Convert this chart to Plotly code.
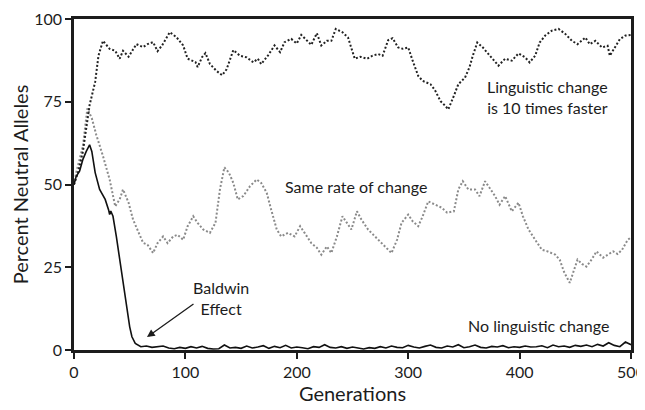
import plotly.graph_objects as go

# ---- data ----
fast_gen = [0, 4, 8, 11, 14, 19, 22, 26, 32, 37, 41, 44, 49, 56, 62, 66, 71, 75, 79, 86, 92, 98,
            102, 109, 111, 115, 118, 122, 128, 133, 137, 143, 149, 155, 161, 165, 168, 174, 180,
            185, 189, 195, 200, 204, 209, 213, 218, 222, 227, 231, 235, 241, 246, 249, 252, 257,
            263, 268, 273, 277, 282, 286, 291, 295, 300, 304, 309, 313, 320, 324, 329, 332, 336,
            341, 345, 351, 355, 358, 362, 367, 373, 381, 387, 393, 399, 405, 409, 414, 418, 423,
            429, 435, 441, 447, 452, 459, 463, 468, 474, 479, 481, 486, 490, 495, 500]
fast_val = [50, 54, 60, 67, 74, 81, 89, 93.4, 91, 90.4, 88, 90.4, 88.6, 92.4, 91.5, 92.4, 93, 90.3,
            92, 96, 94.5, 92, 88, 87, 85.5, 88.5, 89.7, 86.4, 84.3, 83, 84.8, 90.6, 88.9, 88.4,
            86.9, 88, 86.4, 88.9, 92, 90, 93, 94, 92.6, 95.2, 93.4, 92.2, 95.7, 92, 93.4, 93.4,
            97, 96, 94.4, 91.4, 88, 88.6, 88, 88.9, 89.4, 88.9, 93.6, 94.2, 91.4, 91, 91.4, 87.4,
            82.8, 81.3, 80.3, 78.5, 75.2, 74.2, 72.7, 76.8, 80.3, 82.3, 85.4, 88.9, 92.9, 91.4,
            88.9, 85.9, 88, 87.4, 89.6, 88.4, 86.9, 88.9, 92.9, 95, 96.5, 97, 95.5, 93.4, 92.4,
            94.4, 92.4, 93.4, 91.4, 91.9, 88.9, 91.9, 93.9, 95, 95.2]

same_gen = [0, 2, 8, 12, 16, 20, 26, 32, 37, 41, 44, 49, 53, 57, 62, 66, 71, 75, 80, 84, 89, 93,
            98, 102, 107, 111, 116, 122, 127, 131, 135, 139, 143, 147, 152, 158, 164, 168, 173,
            177, 182, 186, 192, 198, 203, 207, 213, 218, 222, 227, 231, 236, 241, 245, 249, 254,
            258, 264, 270, 276, 282, 285, 290, 294, 300, 304, 309, 313, 318, 324, 330, 335, 341,
            345, 349, 354, 360, 364, 369, 373, 378, 382, 387, 393, 399, 403, 408, 414, 420, 425,
            432, 436, 440, 445, 448, 452, 456, 460, 465, 469, 475, 480, 484, 488, 492, 497, 500]
same_val = [50, 53.6, 61.6, 73, 70, 65, 58.6, 51.5, 43.4, 45.5, 48.5, 44.5, 39.4, 36.4, 32.4, 31.8,
            29.3, 32.3, 34.3, 32.3, 34.3, 34.8, 33.3, 37.4, 40.4, 38.4, 36.4, 35.4, 38.4, 48.5,
            55.2, 53.6, 50.5, 45.5, 46.5, 49.5, 51.5, 50.5, 47.5, 42.4, 36.4, 34.3, 35.4, 34.3,
            37.4, 35.4, 32.3, 30.9, 28.8, 31.3, 29.3, 34.3, 40.4, 38.4, 36.4, 41.9, 39.4, 36.4,
            34.3, 32.3, 30.3, 29.3, 33.3, 38.4, 40.9, 38.9, 37.4, 40.4, 44.9, 43.9, 43, 41.5, 41.9,
            48.5, 51, 48.5, 48.5, 46.5, 51, 49, 46.5, 43.9, 46.5, 41.9, 44.5, 40.4, 36.4, 33.3,
            30.3, 29.8, 28.8, 27.3, 23.5, 20.3, 23.3, 27.3, 26, 25.2, 27.5, 29.8, 27.9, 29, 29.8,
            29, 30.3, 33.3, 34]

none_gen = [0, 2, 5, 8, 11, 14, 16, 19, 23, 28, 31, 32, 33, 35, 38, 41, 45, 48, 50, 52, 55,
            60, 65, 70, 75, 80, 85, 90, 95, 100, 105, 110, 115, 120, 125, 130, 135, 140, 145,
            150, 155, 160, 165, 170, 175, 180, 185, 190, 195, 200, 205, 210, 215, 220, 225, 230,
            235, 240, 245, 250, 255, 260, 265, 270, 275, 280, 285, 290, 295, 300, 305, 310, 315,
            320, 325, 330, 335, 340, 345, 350, 355, 360, 365, 370, 375, 380, 385, 390, 395, 400,
            405, 410, 415, 420, 425, 430, 435, 440, 445, 450, 455, 460, 465, 470, 475, 480, 485,
            490, 495, 500]
none_val = [50, 52.5, 54, 57.6, 60, 62, 60, 53.6, 48.5, 45.5, 42.4, 40.9, 42, 40.4, 34.3, 27.3,
            19, 12, 7, 4, 2,
            1, 1.2, 0.8, 1, 1.2, 0.6, 0.4, 0.8, 0.5, 1, 0.6, 1.1, 0.5, 0.3, 0.4, 1.5, 0.6, 0.8,
            0.5, 1.2, 0.6, 0.9, 1.3, 0.5, 1.1, 0.7, 1.4, 0.6, 0.9, 0.7, 0.4, 1.0, 0.8, 1.6, 0.8,
            0.6, 1.0, 0.5, 0.9, 0.6, 0.3, 0.7, 0.5, 1.0, 0.6, 1.2, 0.8, 0.7, 1.4, 0.9, 0.6, 1.1,
            1.5, 0.8, 0.6, 1.2, 0.9, 1.6, 0.7, 1.0, 1.5, 0.8, 0.6, 1.1, 0.9, 1.3, 0.7, 1.0, 0.8,
            1.2, 0.9, 1.0, 1.3, 0.7, 1.5, 1.0, 1.2, 0.8, 1.4, 1.1, 1.5, 1.0, 1.7, 1.2, 2.2, 1.4,
            1.0, 2.4, 1.6]

x_ticks = [0, 100, 200, 300, 400, 500]
y_ticks = [0, 25, 50, 75, 100]

FONT = "Lato"
INK = "#1c1c1c"

fig = go.Figure()
fig.add_trace(go.Scatter(x=same_gen, y=same_val, mode="lines",
                         line=dict(color="#8a8a8a", width=2, dash="2px,2px"),
                         showlegend=False))
fig.add_trace(go.Scatter(x=fast_gen, y=fast_val, mode="lines",
                         line=dict(color="#222222", width=2, dash="2px,2px"),
                         showlegend=False))
fig.add_trace(go.Scatter(x=none_gen, y=none_val, mode="lines",
                         line=dict(color="#111111", width=1.6),
                         showlegend=False))

ann_font = dict(family=FONT, size=16, color=INK)
fig.add_annotation(x=425, y=76.3, text="Linguistic change<br>is 10 times faster",
                   showarrow=False, font=ann_font, align="center")
fig.add_annotation(x=253, y=49.5, text="Same rate of change",
                   showarrow=False, font=ann_font)
fig.add_annotation(x=417, y=7.5, text="No linguistic change",
                   showarrow=False, font=ann_font)
fig.add_annotation(x=132, y=15.7, text="Baldwin<br>Effect",
                   showarrow=False, font=ann_font, align="center")
fig.add_annotation(x=65.5, y=3.9, ax=108.6, ay=14.2, axref="x", ayref="y",
                   text="", showarrow=True, arrowhead=2, arrowsize=1.2,
                   arrowwidth=1.3, arrowcolor=INK)

axis_common = dict(showline=True, linewidth=2.5, linecolor=INK, mirror=True,
                   ticks="outside", ticklen=6, tickwidth=2, tickcolor=INK,
                   showgrid=False, zeroline=False, automargin=False,
                   ticklabeloverflow="allow",
                   tickfont=dict(family=FONT, size=16, color=INK))

fig.update_xaxes(range=[0, 500], tickvals=x_ticks,
                 title=dict(text="Generations", font=dict(family=FONT, size=20, color=INK),
                            standoff=8),
                 **axis_common)
fig.update_yaxes(range=[0, 100], tickvals=y_ticks,
                 title=dict(text="Percent Neutral Alleles",
                            font=dict(family=FONT, size=20, color=INK), standoff=1),
                 **axis_common)

# the page body adds an 8px offset; the figure is made wide enough that the
# "500" tick label is not clipped at the figure edge
fig.update_layout(width=645, height=402,
                  margin=dict(l=66, r=22, t=11, b=60),
                  paper_bgcolor="white", plot_bgcolor="white",
                  font=dict(family=FONT, color=INK))

fig.write_html("out.html")
